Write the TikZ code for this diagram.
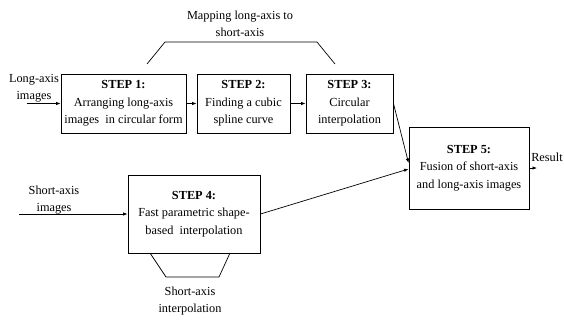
\documentclass[tikz,border=0pt]{standalone}
\usepackage{fontspec}
\setmainfont{Liberation Serif}
\usepackage{tikz}
\usetikzlibrary{arrows.meta,positioning}

\begin{document}
\begin{tikzpicture}[x=1bp, y=-1bp, >={Latex[length=4.5bp,width=3.5bp]},
  line width=0.7bp,
  font=\fontsize{12.3bp}{17.5bp}\selectfont,
  stepbox/.style={draw, line width=0.9bp, align=center, inner sep=0pt},
  lbl/.style={align=center, inner sep=0pt}]

\useasboundingbox (0,0) rectangle (564,320);

% Steps
\node[stepbox, minimum width=125bp, minimum height=59bp] (S1) at (123.5,103.5)
  {\textbf{STEP 1:}\\Arranging long-axis\\images\ \ in circular form};
\node[stepbox, minimum width=93bp, minimum height=59bp] (S2) at (243.5,103.5)
  {\textbf{STEP 2:}\\Finding a cubic\\spline curve};
\node[stepbox, minimum width=87bp, minimum height=59bp] (S3) at (349.5,103.5)
  {\textbf{STEP 3:}\\Circular\\interpolation};
\node[stepbox, minimum width=132bp, minimum height=78bp] (S4) at (194,214)
  {\textbf{STEP 4:}\\Fast parametric shape-\\based\ \ interpolation};
\node[stepbox, minimum width=120bp, minimum height=82bp] (S5) at (469,168)
  {\textbf{STEP 5:}\\Fusion of short-axis\\and long-axis images};

% Inputs and output
\node[lbl] (LA) at (34,88) {Long-axis\\images};
\coordinate (LAin) at (27,103.5);
\node[lbl] (SA) at (54,200) {Short-axis\\images};
\coordinate (SAin) at (19,214);
\node[lbl] (RES) at (547,157) {Result};
\coordinate (RESout) at (537,168);

% Arrows
\draw[->] (LAin) -- (S1);
\draw[->] (S1) -- (S2);
\draw[->] (S2) -- (S3);
\draw[->] (S3.east) -- ([yshift=5bp]S5.west);
\draw[->] (SAin) -- (S4);
\draw[->] (S4.east) -- ([yshift=-1bp]S5.west);
\draw[->] (S5.east) -- (RESout);

% Groupings
\draw (147,64) -- (165,42) -- (317,42) -- (335,64);
\node[lbl] (MAP) at (240,24) {Mapping long-axis to\\short-axis};
\draw (150,253) -- (166,277) -- (219,277) -- (230,253);
\node[lbl] (SAI) at (190,301) {Short-axis\\interpolation};

\end{tikzpicture}
\end{document}
